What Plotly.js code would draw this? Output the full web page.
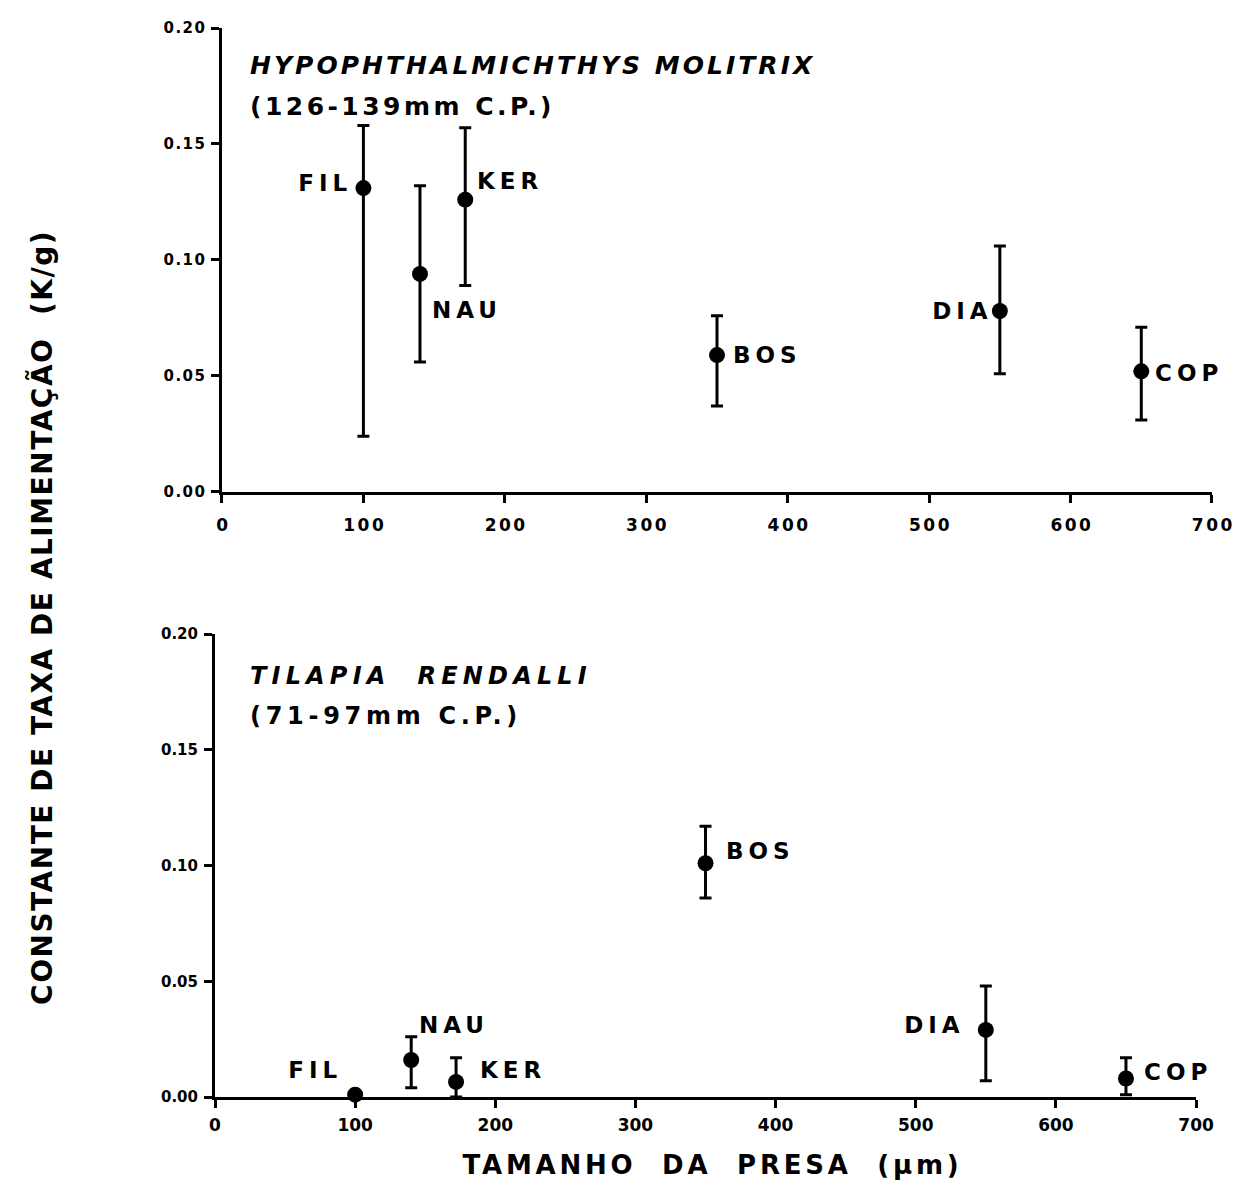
<!DOCTYPE html>
<html>
<head>
<meta charset="utf-8">
<script src="https://cdn.plot.ly/plotly-3.0.1.min.js"></script>
<style>html,body{margin:0;padding:0;background:#fff;}#chart{width:1236px;height:1182px;}</style>
</head>
<body>
<div id="chart"></div>
<script>
// Prey categories and sizes (µm)
const preyLabels = ["FIL", "NAU", "KER", "BOS", "DIA", "COP"];
const preySize = [100, 140, 172, 350, 550, 650];

// Hypophthalmichthys molitrix (126-139 mm C.P.)
const hypoK = [0.131, 0.094, 0.126, 0.059, 0.078, 0.052];
const hypoUpper = [0.158, 0.132, 0.157, 0.076, 0.106, 0.071];
const hypoLower = [0.024, 0.056, 0.089, 0.037, 0.051, 0.031];

// Tilapia rendalli (71-97 mm C.P.)
const tilK = [0.001, 0.016, 0.0065, 0.101, 0.029, 0.008];
const tilUpper = [0.001, 0.026, 0.017, 0.117, 0.048, 0.017];
const tilLower = [0.001, 0.004, 0.0, 0.086, 0.007, 0.001];

const xTicks = [0, 100, 200, 300, 400, 500, 600, 700];
const yTicks = [0, 0.05, 0.10, 0.15, 0.20];
const yTickText = ["0.00", "0.05", "0.10", "0.15", "0.20"];

const hypoTitle = "HYPOPHTHALMICHTHYS MOLITRIX";
const hypoSub = "(126-139mm C.P.)";
const tilTitle = "TILAPIA  RENDALLI";
const tilSub = "(71-97mm C.P.)";
const yTitle = "CONSTANTE DE TAXA DE ALIMENTAÇÃO  (K/g)";
const xTitle = "TAMANHO  DA  PRESA  (µm)";

// label placement (style, not data)
const hypoLabelPos = [
  {anchor: "right", dx: -14, dy: 5},
  {anchor: "left", dx: 10, dy: -36},
  {anchor: "left", dx: 10, dy: 19},
  {anchor: "left", dx: 14, dy: 0},
  {anchor: "right", dx: -10, dy: 0},
  {anchor: "left", dx: 12, dy: -2}
];
const tilLabelPos = [
  {anchor: "right", dx: -16, dy: 25},
  {anchor: "left", dx: 6, dy: 35},
  {anchor: "left", dx: 22, dy: 12},
  {anchor: "left", dx: 18, dy: 12},
  {anchor: "right", dx: -24, dy: 5},
  {anchor: "left", dx: 16, dy: 6}
];

function errTrace(k, up, lo, xa, ya) {
  return {
    x: preySize, y: k, xaxis: xa, yaxis: ya,
    type: "scatter", mode: "markers",
    marker: {color: "#000", size: 16, symbol: "circle"},
    error_y: {
      type: "data", symmetric: false,
      array: up.map((u, i) => Math.max(u - k[i], 0)),
      arrayminus: lo.map((l, i) => Math.max(k[i] - l, 0)),
      color: "#000", thickness: 3, width: 6
    },
    cliponaxis: false, showlegend: false, hoverinfo: "x+y"
  };
}

const data = [
  errTrace(hypoK, hypoUpper, hypoLower, "x", "y"),
  errTrace(tilK, tilUpper, tilLower, "x2", "y2")
];

const FAM = "DejaVu Sans, Arial";
const ann = [];
const annFit = []; // parallel: {ls, w, a}
function addLabels(k, pos, xr, yr) {
  preyLabels.forEach((t, i) => {
    ann.push({
      text: "<b>" + t + "</b>", x: preySize[i], y: k[i], xref: xr, yref: yr,
      showarrow: false, xanchor: pos[i].anchor, yanchor: "middle",
      xshift: pos[i].dx, yshift: pos[i].dy, font: {family: FAM, size: 23, color: "#000"}
    });
    annFit.push({ls: 5, w: null, a: pos[i].anchor});
  });
}
addLabels(hypoK, hypoLabelPos, "x", "y");
addLabels(tilK, tilLabelPos, "x2", "y2");

function paperAnn(txt, x, y, size, italic, width, extra) {
  const t = italic ? "<b><i>" + txt + "</i></b>" : "<b>" + txt + "</b>";
  const o = Object.assign({text: t, xref: "paper", yref: "paper", x: x, y: y,
    xanchor: "left", yanchor: "middle", showarrow: false,
    font: {family: FAM, size: size, color: "#000"}}, extra || {});
  ann.push(o);
  annFit.push({ls: 0, w: width, a: o.xanchor === "center" ? "center" : "left"});
}
paperAnn(hypoTitle, 0.0331, 0.9645, 25, true, 567);
paperAnn(hypoSub, 0.0331, 0.927, 25, false, 305);
paperAnn(tilTitle, 0.0331, 0.3938, 24, true, 342);
paperAnn(tilSub, 0.0331, 0.3564, 24, false, 272);
paperAnn(yTitle, -0.1735, 0.448, 28, false, 775, {xanchor: "center", textangle: -90});
paperAnn(xTitle, 0.4965, -0.0636, 26, false, 500, {xanchor: "center"});

function xAxis(domain, anchor, standoff) {
  return {domain: domain, anchor: anchor, range: [0, 700], tickvals: xTicks,
    showline: true, linewidth: 3, linecolor: "#000", mirror: false,
    ticks: "outside", ticklen: 8, tickwidth: 3, tickcolor: "#000",
    ticklabelstandoff: standoff,
    showgrid: false, zeroline: false, tickfont: {family: FAM, size: 17, color: "#000", weight: "bold"}};
}
function yAxis(domain, anchor) {
  return {domain: domain, anchor: anchor, range: [0, 0.2], tickvals: yTicks, ticktext: yTickText,
    showline: true, linewidth: 3, linecolor: "#000",
    ticks: "outside", ticklen: 8, tickwidth: 3, tickcolor: "#000",
    ticklabelstandoff: 3,
    showgrid: false, zeroline: false, tickfont: {family: FAM, size: 15, color: "#000", weight: "bold"}};
}

const layout = {
  width: 1236, height: 1182,
  margin: {l: 215, r: 24, t: 28, b: 85},
  paper_bgcolor: "#fff", plot_bgcolor: "#fff",
  showlegend: false,
  xaxis: xAxis([0.007, 1.0], "y", 8),
  yaxis: yAxis([0.566, 1.0], "x"),
  xaxis2: xAxis([0, 0.984], "y2", 3),
  yaxis2: yAxis([0, 0.433], "x2"),
  annotations: ann,
  font: {family: FAM, color: "#000"}
};

function shiftText(el, dx) {
  const nodes = [el].concat(Array.from(el.querySelectorAll("tspan[x]")));
  nodes.forEach(n => {
    const x = parseFloat(n.getAttribute("x") || "0");
    n.setAttribute("x", x + dx);
  });
}
function spaceText(el, ls, width, anchor) {
  const b0 = el.getBBox();
  if (width != null) {
    const n = el.textContent.length;
    ls = Math.max((width - b0.width) / n, 0);
  }
  el.style.letterSpacing = ls + "px";
  const b1 = el.getBBox();
  let dx = 0;
  if (anchor === "left") dx = b0.x - b1.x;
  else if (anchor === "right") dx = (b0.x + b0.width) - (b1.x + b1.width - ls);
  else dx = (b0.x + b0.width / 2) - (b1.x + (b1.width - ls) / 2);
  shiftText(el, dx);
}

Plotly.newPlot("chart", data, layout, {displayModeBar: false, staticPlot: true}).then(gd => {
  gd.querySelectorAll(".xtick text").forEach(el => spaceText(el, 2.5, null, "center"));
  gd.querySelectorAll(".ytick text").forEach(el => spaceText(el, 1.5, null, "right"));
  gd.querySelectorAll("g.annotation").forEach(g => {
    const idx = parseInt(g.getAttribute("data-index"), 10);
    const el = g.querySelector("text.annotation-text");
    const f = annFit[idx];
    if (el && f) spaceText(el, f.ls, f.w, f.a);
  });
});
</script>
</body>
</html>
